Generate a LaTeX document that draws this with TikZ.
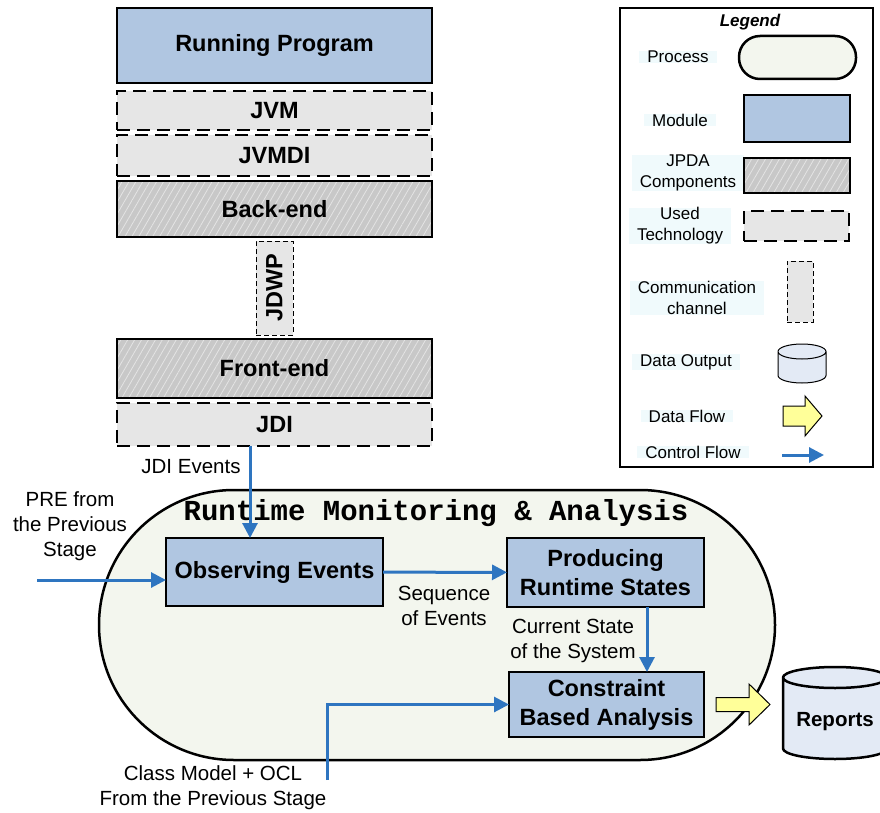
\documentclass[tikz,border=0pt]{standalone}
\usepackage{fontspec}
\setmainfont{Liberation Sans}
\newfontfamily\titlefont{Liberation Mono}
\usetikzlibrary{shapes,shapes.geometric,arrows.meta,positioning,patterns.meta}
\definecolor{modblue}{RGB}{176,198,225}
\definecolor{techgray}{RGB}{230,230,230}
\definecolor{jpdagray}{RGB}{200,200,200}
\definecolor{hatchline}{RGB}{228,228,228}
\definecolor{procfill}{RGB}{243,246,238}
\definecolor{ctrlblue}{RGB}{46,117,192}
\definecolor{flowyellow}{RGB}{255,255,153}
\definecolor{storeblue}{RGB}{227,234,245}
\definecolor{legendbg}{RGB}{240,250,252}
\newcommand{\boxfont}{\fontsize{23.5}{29}\selectfont\bfseries}
\newcommand{\lblfont}{\fontsize{20.5}{25}\selectfont}
\newcommand{\lgfont}{\fontsize{17}{21}\selectfont}
\tikzstyle{module} = [rectangle, draw, line width=2.5pt, fill=modblue, font=\boxfont, align=center]
\tikzstyle{techno} = [rectangle, draw, line width=2.5pt, dash pattern=on 13pt off 7pt, fill=techgray, font=\boxfont]
\tikzstyle{jpda} = [rectangle, draw, line width=2.5pt, preaction={fill=jpdagray}, pattern={Lines[angle=60,distance=6pt,line width=0.8pt]}, pattern color=hatchline, font=\boxfont]
\tikzstyle{channel} = [rectangle, draw, line width=1pt, dash pattern=on 5pt off 3pt, fill=techgray]
\tikzstyle{process} = [rectangle, draw, line width=2.5pt, fill=procfill]
\tikzstyle{store} = [draw, fill=storeblue]
\tikzstyle{ctrl} = [draw=ctrlblue, line width=3pt, -{Triangle[length=15pt,width=15pt]}]
\tikzstyle{dflow} = [draw, line width=1pt, fill=flowyellow]
\tikzstyle{lbl} = [font=\lblfont, align=center]
\tikzstyle{lgtext} = [fill=legendbg, font=\lgfont, align=center, inner xsep=8pt]

\begin{document}
\begin{tikzpicture}[x=1pt, y=-1pt, inner sep=0pt, outer sep=0pt]
   \useasboundingbox (0,0) rectangle (880,813);
   % JPDA stack
   \node[module, minimum width=315pt, minimum height=75pt] (rp) at (274.5,45.5) {Running Program};
   \node[techno, minimum width=315pt, minimum height=39pt] (jvm) [below=8pt of rp] {JVM};
   \node[techno, minimum width=315pt, minimum height=41pt] (jvmdi) [below=5pt of jvm] {JVMDI};
   \node[jpda, minimum width=315pt, minimum height=56pt] (back) [below=5pt of jvmdi] {Back-end};
   \node[channel, minimum width=37pt, minimum height=94pt] (jdwp) [below=4pt of back] {};
   \node[font=\boxfont, rotate=90] (jdwplbl) at (jdwp) {JDWP};
   \node[jpda, minimum width=315pt, minimum height=59pt] (front) [below=4pt of jdwp] {Front-end};
   \node[techno, minimum width=315pt, minimum height=43pt] (jdi) [below=5pt of front] {JDI};

   % process
   \node[process, rounded corners=135pt, minimum width=676pt, minimum height=270pt] (proc) at (437,625) {};
   \node[font=\titlefont\fontsize{29}{32}\selectfont\bfseries] (title) at (436,513) {Runtime Monitoring \& Analysis};
   \node[module, minimum width=217pt, minimum height=68pt] (obs) at (274.5,572) {Observing Events};
   \node[module, minimum width=197pt, minimum height=69pt] (prs) at (605.5,572.5) {Producing\\Runtime States};
   \node[module, minimum width=195pt, minimum height=65pt] (cba) at (606.5,704.5) {Constraint\\Based Analysis};

   % output
   \draw[store, line width=2.5pt, shift={(835,722)}] (-52,-44.5) -- (-52,26.5)
      arc[start angle=180, end angle=0, x radius=52, y radius=10.5] -- (52,-44.5)
      arc[start angle=0, end angle=-180, x radius=52, y radius=10.5] -- cycle
      (-52,-44.5) arc[start angle=180, end angle=0, x radius=52, y radius=10.5];
   \node[font=\fontsize{20.5}{24}\selectfont\bfseries] (rep) at (835,722) {Reports};

   % labels
   \node[lbl] (jdiev) at (191,467) {JDI Events};
   \node[lbl] (prelbl) at (70,526) {PRE from\\the Previous\\Stage};
   \node[lbl] (seqlbl) at (444,605.5) {Sequence\\of Events};
   \node[lbl] (curlbl) at (573,640.5) {Current State\\of the System};
   \node[lbl] (ocllbl) at (213,787.5) {Class Model + OCL\\From the Previous Stage};
   \coordinate (pre) at (37,580);
   \coordinate (ocl) at (327,780);

   % edges
   \draw[ctrl] ([xshift=-24.5pt]jdi.south) -- ([xshift=-24.5pt]jdi.south |- obs.north);
   \draw[ctrl] (pre) -- (pre -| obs.west);
   \draw[ctrl] (obs) -- (prs);
   \draw[ctrl] ([xshift=41.5pt]prs.south) -- ([xshift=41.5pt]prs.south |- cba.north);
   \draw[ctrl] (ocl) |- (cba.west);
   \draw[dflow, shift={(cba.east)}] (12,-7) -- (45,-7) -- (45,-20.5) -- (66,0) -- (45,20.5) -- (45,7) -- (12,7) -- cycle;

   % legend
   \node[draw, line width=1.2pt, minimum width=253pt, minimum height=459pt] (legend) at (746.5,237.5) {};
   \node[font=\lgfont\bfseries\itshape] (lgtitle) at (750,22) {Legend};
   \node[lgtext] (lgproc) at (678,57) {Process};
   \node[process, rounded corners=21pt, minimum width=117pt, minimum height=43pt] (lgprocs) at (797.5,57.5) {};
   \node[lgtext] (lgmod) at (680,120) {Module};
   \node[module, minimum width=106pt, minimum height=47pt] (lgmods) at (797,118.5) {};
   \node[lgtext] (lgjpda) at (688,173) {JPDA\\Components};
   \node[jpda, minimum width=106pt, minimum height=35pt] (lgjpdas) at (797,175.5) {};
   \node[lgtext] (lgtech) at (680,226) {Used\\Technology};
   \node[techno, minimum width=105pt, minimum height=30pt] (lgtechs) at (796.5,226) {};
   \node[lgtext] (lgchan) at (697,298) {Communication\\channel};
   \node[channel, minimum width=26pt, minimum height=61pt] (lgchans) at (800,291.5) {};
   \node[lgtext] (lgout) at (686,362) {Data Output};
   \draw[store, line width=1pt, shift={(802,363.5)}] (-24,-12) -- (-24,12)
      arc[start angle=180, end angle=0, x radius=24, y radius=7.5] -- (24,-12)
      arc[start angle=0, end angle=-180, x radius=24, y radius=7.5] -- cycle
      (-24,-12) arc[start angle=180, end angle=0, x radius=24, y radius=7.5];
   \node[lgtext] (lgdata) at (687,416) {Data Flow};
   \draw[dflow] (783,406) -- (805,406) -- (805,396) -- (822,416) -- (805,436) -- (805,426) -- (783,426) -- cycle;
   \node[lgtext] (lgctrl) at (693,452) {Control Flow};
   \coordinate (lgc1) at (782,455);
   \coordinate (lgc2) at (824,455);
   \draw[ctrl] (lgc1) -- (lgc2);
\end{tikzpicture}
\end{document}
